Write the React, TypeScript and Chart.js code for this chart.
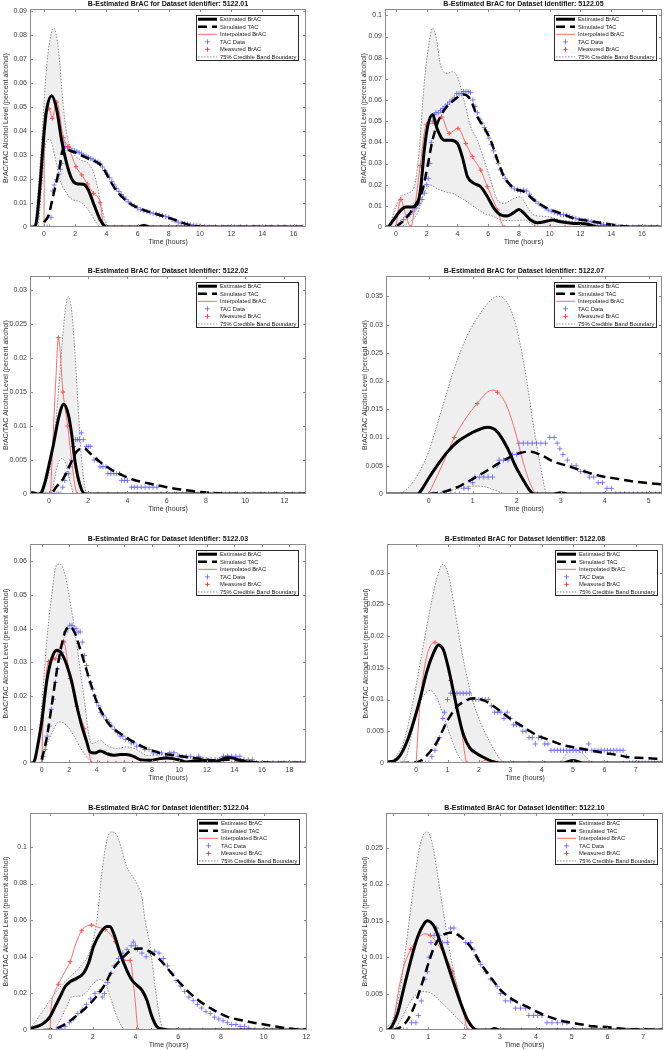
import React, { useEffect, useRef } from 'react';
import { Chart, registerables } from 'chart.js';
Chart.register(...registerables);

type Pts = [number, number][];

// ---------------- DATA ----------------
const legendLabels = ['Estimated BrAC', 'Simulated TAC', 'Interpolated BrAC', 'TAC Data', 'Measured BrAC', '75% Credible Band Boundary'];
const titlePrefix = 'B-Estimated BrAC for Dataset Identifier: ';
const xAxisLabel = 'Time (hours)';
const yAxisLabel = 'BrAC/TAC Alcohol Level (percent alcohol)';

// ---- 5122.01 ----
const xTicks01 = [0, 2, 4, 6, 8, 10, 12, 14, 16];
const yTicks01 = [0, 0.01, 0.02, 0.03, 0.04, 0.05, 0.06, 0.07, 0.08, 0.09];
const est01: Pts = [[-0.9,0],[-0.6,0],[-0.47,0.003],[-0.26,0.017],[0,0.039],[0.17,0.049],[0.49,0.0547],[0.81,0.049],[1.13,0.036],[1.45,0.0265],[1.78,0.02],[2.1,0.018],[2.52,0.0178],[2.84,0.0154],[3.17,0.0099],[3.6,0.003],[3.9,0.0004],[4.2,0],[6.0,0],[6.4,0.0006],[6.8,0],[16.6,0]];
const sim01: Pts = [[0,0.002],[0.3,0.005],[0.55,0.012],[0.8,0.019],[1.0,0.025],[1.15,0.031],[1.3,0.0335],[1.6,0.032],[2.0,0.031],[2.5,0.0295],[3.0,0.028],[3.5,0.0265],[3.8,0.0245],[4.1,0.021],[4.5,0.0165],[5.0,0.0125],[5.5,0.0098],[6.0,0.008],[6.5,0.0068],[7.0,0.0058],[7.5,0.0048],[8.0,0.0038],[8.5,0.0027],[9.0,0.0015],[9.5,0.0006],[10,0.0002],[10.5,0],[16.6,0]];
const interp01: Pts = [[0,0],[0.03,0.047],[0.32,0.0492],[0.53,0.0453],[0.81,0.052],[1.24,0.0372],[1.56,0.0335],[2.05,0.0251],[2.42,0.0217],[2.78,0.0179],[3.17,0.014],[3.6,0.0101],[3.8,0.001],[3.9,0],[16.6,0]];
const meas01: Pts = [[0.32,0.0492],[0.53,0.0453],[0.81,0.052],[1.24,0.0372],[1.56,0.0335],[2.05,0.0251],[2.42,0.0217],[2.78,0.0179],[3.17,0.014],[3.6,0.0101],[4,0],[4.5,0],[5,0],[5.5,0],[6,0],[6.5,0],[7,0],[7.5,0],[8,0],[8.5,0],[9,0],[9.5,0],[10,0],[10.5,0],[11,0],[11.5,0],[12,0],[12.5,0],[13,0],[13.5,0],[14,0],[14.5,0],[15,0],[15.5,0],[16,0],[16.5,0]];
const tac01: Pts = [[0.2,0],[0.35,0],[0.45,0.004],[0.55,0.015],[0.65,0.0175],[0.8,0.0196],[0.95,0.022],[1.05,0.024],[1.13,0.0265],[1.24,0.035],[1.35,0.0335],[1.5,0.033],[1.65,0.0325],[1.8,0.032],[1.95,0.0318],[2.1,0.0315],[2.25,0.031],[2.4,0.0305],[2.55,0.03],[2.7,0.0295],[2.85,0.029],[3.0,0.0285],[3.15,0.028],[3.3,0.0275],[3.45,0.027],[3.6,0.0265],[3.75,0.025],[3.9,0.0235],[4.05,0.022],[4.2,0.0205],[4.35,0.019],[4.5,0.0175],[4.65,0.016],[4.8,0.0148],[4.95,0.0135],[5.1,0.0125],[5.25,0.0115],[5.4,0.0105],[5.6,0.0095],[5.8,0.0088],[6.0,0.008],[6.2,0.0072],[6.4,0.0068],[6.6,0.0064],[6.8,0.006],[7.0,0.0057],[7.2,0.0054],[7.4,0.005],[7.6,0.0047],[7.8,0.0044],[8.0,0.004],[8.2,0.0032],[8.4,0.0026],[8.6,0.002],[8.8,0.0016],[9.0,0.0014],[9.2,0.0012],[9.4,0.001],[9.6,0.0008],[9.8,0.0006],[10.0,0.0004],[10.3,0.0002],[10.6,0],[11.0,0],[11.4,0],[11.8,0],[12.2,0],[12.6,0],[13.0,0],[13.4,0],[13.8,0],[14.2,0],[14.6,0],[15.0,0],[15.4,0],[15.8,0],[16.2,0],[16.6,0]];
const hi01: Pts = [[-0.9,0],[-0.6,0.001],[-0.47,0.0085],[-0.3,0.022],[-0.15,0.036],[0.17,0.067],[0.49,0.0814],[0.64,0.0828],[0.92,0.074],[1.24,0.05],[1.45,0.039],[1.78,0.032],[2.3,0.028],[2.84,0.0265],[3.27,0.021],[3.6,0.0112],[3.9,0.003],[4.15,0],[6.0,0],[6.4,0.0012],[6.8,0],[16.8,0]];
const lo01: Pts = [[-0.9,0],[-0.4,0],[-0.15,0.017],[0.17,0.036],[0.38,0.0365],[0.7,0.029],[1.03,0.0196],[1.45,0.014],[1.78,0.0115],[2.3,0.0105],[2.84,0.007],[3.38,0.0015],[3.6,0],[16.8,0]];

// ---- 5122.05 ----
const xTicks05 = [0, 2, 4, 6, 8, 10, 12, 14, 16];
const yTicks05 = [0, 0.01, 0.02, 0.03, 0.04, 0.05, 0.06, 0.07, 0.08, 0.09, 0.1];
const est05: Pts = [[-0.7,0],[-0.5,0],[-0.32,0.0017],[0,0.0049],[0.32,0.008],[0.65,0.0094],[1.08,0.0094],[1.4,0.011],[1.62,0.019],[1.84,0.036],[2.05,0.047],[2.38,0.0532],[2.7,0.046],[3.14,0.041],[3.57,0.041],[4.0,0.0395],[4.32,0.033],[4.65,0.0238],[5.08,0.0206],[5.51,0.019],[5.95,0.0143],[6.38,0.0088],[6.81,0.0057],[7.24,0.0052],[7.68,0.0069],[8.0,0.0083],[8.32,0.0065],[8.76,0.0033],[9.19,0.002],[9.84,0.0028],[10.16,0.0033],[10.7,0.0025],[11.57,0.0017],[12.4,0.0014],[13.1,0],[17.3,0]];
const sim05: Pts = [[0,0],[0.54,0.0033],[1.19,0.0096],[1.73,0.0175],[2.05,0.0285],[2.38,0.041],[2.7,0.049],[3.14,0.0553],[3.78,0.06],[4.43,0.0626],[4.86,0.06],[5.3,0.052],[5.73,0.047],[6.16,0.041],[6.6,0.0317],[7.03,0.0238],[7.68,0.0183],[8.32,0.0167],[8.97,0.0128],[9.84,0.0088],[10.7,0.0065],[11.57,0.0041],[12.43,0.003],[13.3,0.002],[14.16,0.001],[15.0,0.0002],[15.5,0],[17.3,0]];
const interp05: Pts = [[0,0],[0.15,0.008],[0.32,0.013],[0.55,0.008],[0.8,0.002],[0.97,0],[1.2,0.008],[1.58,0.029],[1.99,0.0485],[2.49,0.049],[2.96,0.052],[3.46,0.0443],[4.04,0.0466],[4.54,0.0395],[4.97,0.0332],[5.51,0.0269],[5.95,0.019],[6.6,0.008],[7.03,0],[17.3,0]];
const meas05: Pts = [[0,0],[0.32,0.013],[0.97,0],[1.58,0.029],[1.99,0.0485],[2.49,0.049],[2.96,0.052],[3.46,0.0443],[4.04,0.0466],[4.54,0.0395],[4.97,0.0332],[5.51,0.0269],[5.95,0.019],[6.6,0.008],[7.03,0],[8,0],[9,0],[10,0],[11,0],[12,0],[13,0],[14,0],[15,0],[16,0],[17,0]];
const tac05: Pts = [[0.1,0],[0.3,0.002],[0.5,0.0035],[0.7,0.0048],[0.9,0.006],[1.1,0.0075],[1.3,0.009],[1.5,0.011],[1.7,0.013],[1.85,0.016],[2.0,0.02],[2.1,0.023],[2.2,0.03],[2.3,0.04],[2.4,0.05],[2.5,0.053],[2.6,0.054],[2.75,0.054],[2.9,0.055],[3.05,0.056],[3.2,0.057],[3.35,0.058],[3.5,0.059],[3.65,0.06],[3.8,0.061],[3.95,0.063],[4.1,0.063],[4.25,0.063],[4.4,0.064],[4.55,0.064],[4.7,0.064],[4.85,0.0635],[5.0,0.06],[5.15,0.057],[5.3,0.054],[5.45,0.051],[5.6,0.049],[5.75,0.047],[5.9,0.045],[6.05,0.042],[6.2,0.039],[6.35,0.036],[6.5,0.033],[6.65,0.03],[6.8,0.027],[6.95,0.025],[7.1,0.023],[7.3,0.021],[7.5,0.019],[7.7,0.018],[7.9,0.0175],[8.1,0.017],[8.3,0.0175],[8.5,0.017],[8.7,0.0155],[8.9,0.0135],[9.1,0.012],[9.3,0.011],[9.5,0.01],[9.7,0.009],[9.9,0.008],[10.1,0.0075],[10.3,0.007],[10.5,0.0065],[10.7,0.006],[10.9,0.0058],[11.1,0.0055],[11.3,0.005],[11.5,0.0045],[11.7,0.004],[11.9,0.0035],[12.1,0.0032],[12.3,0.003],[12.5,0.0028],[12.7,0.0025],[12.9,0.002],[13.1,0.0018],[13.3,0.0015],[13.5,0.0012],[13.7,0.001],[13.9,0.0008],[14.1,0.0006],[14.3,0.0004],[14.5,0.0002],[14.7,0],[15.0,0],[15.4,0],[15.8,0],[16.2,0],[16.6,0],[17.0,0]];
const hi05: Pts = [[-0.7,0],[-0.65,0],[-0.3,0.0033],[0,0.0096],[0.32,0.0143],[0.76,0.016],[1.19,0.019],[1.51,0.036],[1.84,0.068],[2.16,0.087],[2.38,0.094],[2.6,0.09],[2.92,0.076],[3.35,0.0726],[3.68,0.0734],[4.0,0.071],[4.43,0.06],[4.86,0.0474],[5.3,0.041],[5.73,0.0317],[6.16,0.0222],[6.6,0.0128],[7.03,0.0112],[7.68,0.0135],[8.1,0.0143],[8.54,0.0096],[8.97,0.0057],[9.84,0.0049],[10.7,0.0033],[11.57,0.0025],[12.43,0.0017],[13.3,0.0005],[13.8,0],[17.3,0]];
const lo05: Pts = [[-0.7,0],[0,0],[0.76,0.0017],[1.4,0.0065],[1.84,0.016],[2.27,0.0198],[2.7,0.018],[3.14,0.0167],[3.78,0.0156],[4.43,0.0128],[5.08,0.0096],[5.73,0.0065],[6.38,0.0049],[6.8,0.0033],[7.68,0.003],[8.32,0.0033],[8.97,0.001],[9.84,0],[17.3,0]];

// ---- 5122.02 ----
const xTicks02 = [0, 2, 4, 6, 8, 10, 12];
const yTicks02 = [0, 0.005, 0.01, 0.015, 0.02, 0.025, 0.03];
const est02: Pts = [[-0.97,0.0002],[-0.7,0.0001],[-0.54,0],[-0.37,0.0003],[-0.2,0.0018],[0,0.0043],[0.22,0.0072],[0.48,0.0111],[0.75,0.0132],[0.99,0.0116],[1.16,0.0087],[1.33,0.0047],[1.58,0.0013],[1.84,0],[13.1,0]];
const sim02: Pts = [[-0.46,0],[0.05,0],[0.39,0.0011],[0.73,0.0023],[1.07,0.0043],[1.4,0.0062],[1.67,0.0067],[1.8,0.0067],[2.09,0.006],[2.6,0.0047],[3.11,0.0037],[3.63,0.0029],[4.3,0.0021],[5.16,0.0015],[6.0,0.001],[6.86,0.0006],[7.7,0.0003],[8.56,0.0001],[9.0,0],[13.1,0]];
const interp02: Pts = [[0.08,0],[0.2,0.008],[0.35,0.017],[0.48,0.023],[0.71,0.015],[0.95,0.01],[1.15,0.005],[1.35,0.0008],[1.46,0],[13.1,0]];
const meas02: Pts = [[0.08,0],[0.48,0.023],[0.71,0.015],[0.95,0.01],[1.46,0],[2,0],[2.5,0],[3,0],[3.5,0],[4,0],[4.5,0],[5,0],[5.5,0],[6,0],[6.5,0],[7,0],[7.5,0],[8,0],[8.5,0],[9,0],[9.5,0],[10,0],[10.5,0],[11,0],[11.5,0],[12,0],[12.5,0],[13,0]];
const tac02: Pts = [[0.1,0],[0.2,0],[0.3,0],[0.4,0],[0.5,0],[0.6,0],[0.7,0.001],[0.8,0.002],[0.9,0.003],[1.0,0.003],[1.05,0.004],[1.15,0.005],[1.25,0.007],[1.35,0.008],[1.45,0.008],[1.55,0.008],[1.65,0.009],[1.75,0.008],[1.9,0.007],[2.0,0.007],[2.1,0.007],[2.3,0.005],[2.45,0.005],[2.6,0.004],[2.75,0.004],[2.9,0.004],[3.0,0.003],[3.15,0.003],[3.3,0.003],[3.45,0.003],[3.6,0.003],[3.7,0.002],[3.85,0.002],[4.0,0.002],[4.2,0.001],[4.35,0.001],[4.5,0.001],[4.7,0.001],[4.9,0.001],[5.1,0.001],[5.3,0.001],[5.5,0.001],[5.7,0],[6.0,0],[6.4,0],[6.8,0],[7.2,0],[7.6,0],[8.0,0],[8.4,0],[8.8,0],[9.2,0],[9.6,0],[10.0,0],[10.4,0],[10.8,0],[11.2,0],[11.6,0],[12.0,0],[12.4,0],[12.8,0]];
const hi02: Pts = [[-0.97,0],[-0.46,0],[-0.2,0.0013],[0.05,0.0038],[0.31,0.0096],[0.56,0.018],[0.73,0.0243],[0.9,0.0285],[0.99,0.029],[1.16,0.0268],[1.33,0.0204],[1.5,0.0121],[1.67,0.0047],[1.84,0.0008],[1.96,0],[13.1,0]];
const lo02: Pts = [[-0.97,0],[0.05,0],[0.22,0.0013],[0.39,0.0038],[0.56,0.005],[0.65,0.0052],[0.82,0.0047],[0.99,0.0028],[1.16,0.0008],[1.24,0],[13.1,0]];

// ---- 5122.07 ----
const xTicks07 = [0, 1, 2, 3, 4, 5];
const yTicks07 = [0, 0.005, 0.01, 0.015, 0.02, 0.025, 0.03, 0.035];
const est07: Pts = [[-0.97,0],[-0.25,0],[-0.14,0.001],[0,0.0028],[0.2,0.0051],[0.43,0.0075],[0.66,0.0093],[0.88,0.0104],[1.11,0.0113],[1.34,0.0118],[1.56,0.011],[1.79,0.0081],[1.98,0.0048],[2.17,0.0022],[2.32,0.0004],[2.39,0],[2.8,0],[3.0,0.0002],[3.2,0],[5.3,0]];
const sim07: Pts = [[0,0],[0.35,0.0004],[0.73,0.0015],[1.03,0.0028],[1.34,0.0042],[1.64,0.0057],[1.87,0.0066],[2.09,0.0073],[2.32,0.0075],[2.55,0.0069],[2.85,0.0057],[3.15,0.005],[3.53,0.004],[3.9,0.0032],[4.28,0.0027],[4.66,0.0022],[5.04,0.0019],[5.3,0.0017]];
const interp07: Pts = [[0,0],[0.3,0.005],[0.58,0.01],[0.85,0.0135],[1.1,0.016],[1.3,0.0178],[1.45,0.0184],[1.56,0.0181],[1.75,0.016],[1.95,0.0115],[2.15,0.0055],[2.3,0.002],[2.45,0],[5.3,0]];
const meas07: Pts = [[0,0],[0.58,0.01],[1.1,0.016],[1.56,0.018],[2.47,0],[3.0,0],[3.45,0],[3.98,0],[4.45,0],[4.95,0]];
const tac07: Pts = [[0.1,0],[0.2,0],[0.3,0],[0.4,0],[0.5,0],[0.6,0],[0.7,0],[0.8,0.001],[0.9,0.001],[1.0,0.002],[1.05,0.003],[1.15,0.003],[1.25,0.003],[1.35,0.003],[1.45,0.003],[1.55,0.005],[1.6,0.006],[1.7,0.006],[1.8,0.006],[1.9,0.007],[2.0,0.007],[2.05,0.009],[2.15,0.009],[2.25,0.009],[2.35,0.009],[2.45,0.009],[2.55,0.009],[2.65,0.009],[2.75,0.01],[2.85,0.01],[2.92,0.009],[2.98,0.008],[3.05,0.007],[3.15,0.006],[3.25,0.005],[3.35,0.005],[3.45,0.004],[3.55,0.004],[3.65,0.003],[3.75,0.003],[3.85,0.002],[3.95,0.002],[4.05,0.001],[4.15,0.001],[4.25,0],[4.35,0],[4.45,0],[4.55,0],[4.65,0],[4.75,0],[4.85,0],[4.95,0],[5.05,0],[5.15,0],[5.25,0]];
const hi07: Pts = [[-0.97,0],[-0.7,0],[-0.48,0.001],[-0.25,0.0034],[0,0.0075],[0.28,0.0146],[0.58,0.0222],[0.88,0.0281],[1.19,0.0322],[1.41,0.0343],[1.56,0.035],[1.71,0.0346],[1.94,0.031],[2.17,0.0228],[2.39,0.0116],[2.55,0.0045],[2.66,0.0004],[2.72,0],[5.3,0]];
const lo07: Pts = [[-0.97,0],[0,0],[0.35,0.0004],[0.73,0.001],[1.03,0.0014],[1.26,0.0013],[1.49,0.0007],[1.71,0.0001],[1.8,0],[5.3,0]];

// ---- 5122.03 ----
const xTicks03 = [0, 2, 4, 6, 8, 10, 12, 14, 16, 18];
const yTicks03 = [0, 0.01, 0.02, 0.03, 0.04, 0.05, 0.06];
const est03: Pts = [[-0.85,0],[-0.65,0],[-0.48,0.0013],[-0.24,0.0063],[0,0.0122],[0.36,0.0242],[0.73,0.0311],[1.09,0.0336],[1.45,0.0326],[1.82,0.0292],[2.18,0.0242],[2.54,0.0172],[2.9,0.0112],[3.27,0.0063],[3.51,0.0033],[3.87,0.003],[4.24,0.0036],[4.72,0.0028],[5.2,0.0023],[5.7,0.0025],[6.17,0.0025],[6.66,0.002],[7.14,0.001],[7.87,0.0008],[8.6,0.0013],[9.08,0.0015],[9.56,0.0013],[10.05,0.0008],[10.5,0.0003],[11.0,0.0005],[11.7,0.0008],[12.47,0.0001],[12.95,0.0008],[13.4,0.0016],[13.7,0.0016],[14.4,0.0008],[15.1,0.0001],[15.5,0],[19.2,0]];
const sim03: Pts = [[0,0.001],[0.36,0.0073],[0.73,0.0172],[1.09,0.0272],[1.45,0.0351],[1.7,0.0391],[2.06,0.0406],[2.42,0.0386],[2.78,0.0341],[3.15,0.0292],[3.51,0.0242],[4.0,0.0182],[4.48,0.0142],[4.96,0.0112],[5.7,0.0088],[6.66,0.0063],[7.63,0.0043],[8.6,0.003],[9.56,0.0023],[10.5,0.0018],[11.5,0.0013],[12.47,0.0008],[13.4,0.001],[14.4,0.0008],[15.4,0.0003],[16.3,0.0001],[17,0],[19.2,0]];
const interp03: Pts = [[0,0],[0.1,0.012],[0.3,0.025],[0.5,0.0302],[0.97,0.031],[1.25,0.034],[1.57,0.0363],[2.06,0.0252],[2.54,0.0169],[3.1,0.0102],[3.4,0.004],[3.63,0],[19.2,0]];
const meas03: Pts = [[0,0],[0.5,0.0302],[0.97,0.031],[1.57,0.0363],[2.06,0.0252],[2.54,0.0169],[3.1,0.0102],[3.63,0],[4.2,0],[4.8,0],[5.4,0],[6.0,0],[6.6,0],[7.2,0],[7.8,0],[8.4,0],[9.0,0],[9.6,0],[10.2,0],[10.8,0],[11.4,0],[12.0,0],[12.6,0],[13.2,0],[13.8,0],[14.4,0],[15.0,0],[15.6,0],[16.2,0],[16.8,0],[17.4,0],[18.0,0],[18.6,0],[19.2,0]];
const tac03: Pts = [[0.1,0.002],[0.25,0.004],[0.4,0.008],[0.55,0.011],[0.7,0.016],[0.85,0.019],[1.0,0.024],[1.15,0.028],[1.3,0.031],[1.45,0.033],[1.6,0.036],[1.75,0.039],[1.9,0.04],[2.05,0.041],[2.2,0.041],[2.35,0.04],[2.5,0.04],[2.65,0.039],[2.8,0.039],[2.95,0.036],[3.1,0.032],[3.25,0.029],[3.4,0.026],[3.55,0.024],[3.7,0.022],[3.85,0.02],[4.0,0.018],[4.15,0.017],[4.3,0.015],[4.5,0.014],[4.7,0.013],[4.9,0.012],[5.1,0.011],[5.3,0.01],[5.5,0.009],[5.7,0.008],[5.9,0.008],[6.1,0.007],[6.3,0.007],[6.5,0.006],[6.7,0.006],[6.9,0.005],[7.2,0.005],[7.5,0.004],[7.8,0.004],[8.1,0.003],[8.4,0.003],[8.7,0.003],[9.0,0.002],[9.3,0.003],[9.6,0.003],[9.9,0.002],[10.2,0.002],[10.5,0.002],[10.8,0.002],[11.1,0.001],[11.4,0.002],[11.7,0.001],[12.0,0.001],[12.3,0.001],[12.6,0.001],[12.9,0.001],[13.2,0.002],[13.5,0.002],[13.8,0.002],[14.1,0.002],[14.4,0.002],[14.7,0.001],[15.0,0.001],[15.3,0.001],[15.6,0],[16.0,0],[16.4,0],[16.8,0],[17.2,0],[17.6,0],[18.0,0],[18.4,0],[18.8,0],[19.2,0]];
const hi03: Pts = [[-0.85,0],[-0.65,0],[-0.36,0.0033],[0,0.0172],[0.36,0.0361],[0.73,0.05],[1.09,0.059],[1.33,0.0592],[1.7,0.056],[2.06,0.048],[2.42,0.0391],[2.78,0.0282],[3.15,0.0172],[3.39,0.0093],[3.63,0.0058],[4.0,0.0063],[4.24,0.0068],[4.72,0.0053],[5.45,0.0043],[6.17,0.0048],[6.9,0.004],[7.63,0.0023],[8.6,0.0025],[9.56,0.0033],[10.5,0.0018],[11.5,0.0018],[12.47,0.001],[13.4,0.0023],[14.2,0.0016],[15.4,0.0005],[16.3,0.0001],[16.8,0],[19.2,0]];
const lo03: Pts = [[-0.85,0],[0,0],[0.36,0.0053],[0.73,0.0088],[1.09,0.0117],[1.33,0.0122],[1.82,0.0112],[2.3,0.0083],[2.78,0.0048],[3.27,0.0018],[3.63,0.0003],[4.0,0],[19.2,0]];

// ---- 5122.08 ----
const xTicks08 = [0, 1, 2, 3, 4, 5, 6, 7];
const yTicks08 = [0, 0.005, 0.01, 0.015, 0.02, 0.025, 0.03];
const est08: Pts = [[-0.93,0.0002],[-0.72,0.0003],[-0.51,0.0012],[-0.3,0.0033],[-0.08,0.0065],[0.13,0.0102],[0.34,0.0144],[0.55,0.0173],[0.71,0.0186],[0.87,0.0178],[1.03,0.0149],[1.19,0.0112],[1.35,0.0075],[1.51,0.0044],[1.72,0.0023],[1.93,0.0015],[2.14,0.0009],[2.46,0.0002],[2.67,0],[4.7,0],[5.0,0.0004],[5.3,0],[7.87,0]];
const sim08: Pts = [[-0.51,0],[0,0.0001],[0.34,0.0012],[0.66,0.0033],[0.98,0.0065],[1.29,0.0088],[1.61,0.0099],[1.82,0.0102],[2.14,0.0099],[2.57,0.0086],[2.99,0.007],[3.41,0.0057],[3.84,0.0044],[4.26,0.0036],[4.69,0.0028],[5.11,0.0024],[5.54,0.002],[5.96,0.0016],[6.38,0.0013],[6.81,0.0009],[7.23,0.0008],[7.87,0.0006]];
const interp08: Pts = [[0,0],[0.1,0.008],[0.3,0.016],[0.6,0.019],[0.9,0.017],[1.2,0.011],[1.45,0.005],[1.62,0],[2.0,0],[2.2,0.0004],[2.4,0],[7.87,0]];
const meas08: Pts = [[0,0],[0.6,0.019],[1.1,0.013],[1.62,0],[2.1,0],[2.6,0],[3.1,0],[3.6,0],[4.1,0],[4.6,0],[5.1,0],[5.6,0],[6.1,0],[6.6,0],[7.1,0],[7.6,0]];
const tac08: Pts = [[0.1,0],[0.2,0],[0.3,0],[0.4,0],[0.5,0.001],[0.6,0.002],[0.65,0.003],[0.75,0.004],[0.85,0.007],[0.9,0.008],[1.0,0.01],[1.1,0.011],[1.2,0.011],[1.3,0.011],[1.4,0.011],[1.5,0.011],[1.6,0.011],[1.7,0.011],[1.8,0.01],[1.9,0.01],[2.0,0.01],[2.1,0.01],[2.2,0.01],[2.3,0.01],[2.4,0.009],[2.5,0.008],[2.6,0.008],[2.7,0.008],[2.8,0.007],[2.9,0.008],[3.0,0.007],[3.1,0.006],[3.2,0.006],[3.3,0.006],[3.4,0.005],[3.5,0.005],[3.6,0.004],[3.7,0.004],[3.8,0.003],[3.9,0.004],[4.0,0.004],[4.1,0.003],[4.2,0.003],[4.3,0.002],[4.4,0.002],[4.5,0.002],[4.6,0.002],[4.7,0.002],[4.8,0.002],[4.9,0.002],[5.0,0.002],[5.1,0.002],[5.2,0.002],[5.3,0.002],[5.4,0.002],[5.5,0.003],[5.6,0.002],[5.7,0.002],[5.8,0.002],[5.9,0.002],[6.0,0.002],[6.1,0.002],[6.2,0.002],[6.3,0.002],[6.4,0.002],[6.5,0.002],[6.6,0.002],[6.7,0.001],[6.8,0],[6.9,0],[7.0,0],[7.1,0],[7.2,0],[7.3,0],[7.4,0],[7.5,0],[7.6,0],[7.7,0],[7.8,0]];
const hi08: Pts = [[-0.93,0],[-0.83,0],[-0.62,0.0012],[-0.4,0.0033],[-0.19,0.0075],[0.02,0.0128],[0.23,0.0186],[0.45,0.0244],[0.66,0.0291],[0.85,0.0313],[1.03,0.0296],[1.19,0.0254],[1.4,0.0191],[1.61,0.0138],[1.82,0.0096],[2.04,0.0065],[2.35,0.0033],[2.67,0.0007],[2.88,0],[4.55,0],[4.8,0.0015],[5.0,0.0022],[5.3,0.0015],[5.65,0],[7.87,0]];
const lo08: Pts = [[-0.93,0],[-0.51,0],[-0.3,0.0012],[-0.08,0.0059],[0.13,0.0096],[0.34,0.0112],[0.45,0.0114],[0.66,0.0102],[0.87,0.0075],[1.08,0.0044],[1.29,0.0017],[1.45,0.0004],[1.56,0],[7.87,0]];

// ---- 5122.04 ----
const xTicks04 = [0, 2, 4, 6, 8, 10, 12];
const yTicks04 = [0, 0.02, 0.04, 0.06, 0.08, 0.1];
const est04: Pts = [[-0.94,0.0009],[-0.63,0.0018],[-0.31,0.0036],[0,0.0073],[0.23,0.0127],[0.47,0.0182],[0.7,0.0236],[0.94,0.0264],[1.25,0.0282],[1.56,0.0309],[1.8,0.0364],[2.03,0.0455],[2.34,0.0527],[2.66,0.0565],[2.8,0.0565],[3.0,0.052],[3.28,0.0418],[3.59,0.0327],[3.83,0.0273],[4.06,0.0245],[4.3,0.0218],[4.53,0.0164],[4.77,0.0073],[5.0,0.0018],[5.31,0.0004],[5.6,0],[12.03,0]];
const sim04: Pts = [[-0.31,0],[0.16,0.0004],[0.63,0.0027],[1.09,0.0064],[1.56,0.0109],[2.03,0.0164],[2.5,0.0236],[2.97,0.0336],[3.44,0.04],[3.91,0.0442],[4.22,0.0445],[4.69,0.0427],[5.16,0.0382],[5.63,0.0318],[6.1,0.0255],[6.56,0.02],[7.03,0.0155],[7.66,0.0109],[8.28,0.0073],[8.9,0.0055],[9.53,0.004],[10.16,0.0027],[10.78,0.0015],[11.4,0.0005],[12.03,0.0002]];
const interp04: Pts = [[0,0],[0.05,0.012],[0.2,0.02],[0.39,0.025],[0.7,0.032],[0.94,0.0373],[1.2,0.047],[1.48,0.0542],[1.75,0.057],[1.95,0.0573],[2.3,0.056],[2.58,0.0549],[2.85,0.052],[3.05,0.0482],[3.25,0.043],[3.44,0.0382],[3.6,0.038],[3.75,0.038],[3.95,0.02],[4.14,0],[12.03,0]];
const meas04: Pts = [[0,0],[0.39,0.025],[0.94,0.0373],[1.48,0.0542],[1.95,0.0573],[2.58,0.0549],[3.05,0.0482],[3.44,0.0382],[3.75,0.038],[4.14,0],[4.75,0],[5.35,0],[5.95,0],[6.55,0],[7.15,0],[7.75,0],[8.35,0],[8.95,0],[9.55,0],[10.15,0],[10.75,0],[11.35,0],[11.95,0]];
const tac04: Pts = [[0.3,0],[0.5,0.001],[0.7,0.002],[0.9,0.004],[1.1,0.006],[1.3,0.009],[1.5,0.011],[1.7,0.014],[1.9,0.017],[2.1,0.02],[2.3,0.021],[2.45,0.018],[2.55,0.02],[2.7,0.026],[2.85,0.031],[3.0,0.035],[3.2,0.039],[3.4,0.042],[3.6,0.044],[3.8,0.046],[3.9,0.048],[4.0,0.046],[4.1,0.044],[4.3,0.042],[4.5,0.04],[4.7,0.042],[4.9,0.043],[5.1,0.042],[5.3,0.039],[5.5,0.035],[5.7,0.031],[5.9,0.027],[6.1,0.024],[6.3,0.021],[6.5,0.018],[6.7,0.016],[6.9,0.014],[7.1,0.012],[7.3,0.01],[7.5,0.009],[7.7,0.007],[7.9,0.006],[8.1,0.005],[8.3,0.004],[8.5,0.003],[8.7,0.003],[8.9,0.002],[9.1,0.002],[9.3,0.001],[9.6,0],[10.0,0],[10.4,0],[10.8,0],[11.2,0],[11.6,0],[12.0,0]];
const hi04: Pts = [[-0.94,0.0009],[-0.63,0.0055],[-0.31,0.0109],[0,0.0164],[0.47,0.0236],[0.94,0.0291],[1.41,0.0345],[1.88,0.0436],[2.19,0.06],[2.42,0.0855],[2.66,0.1036],[2.89,0.1082],[3.13,0.1064],[3.36,0.0982],[3.59,0.0891],[3.83,0.0845],[4.06,0.08],[4.3,0.0727],[4.45,0.06],[4.69,0.0455],[4.92,0.0236],[5.16,0.0055],[5.31,0],[12.03,0]];
const lo04: Pts = [[-0.94,0],[0.16,0],[0.47,0.0055],[0.78,0.0127],[1.02,0.0182],[1.41,0.0185],[1.72,0.0209],[2.03,0.0255],[2.34,0.0276],[2.58,0.0255],[2.81,0.0182],[3.13,0.0073],[3.36,0.0018],[3.52,0],[12.03,0]];

// ---- 5122.10 ----
const xTicks10 = [0, 1, 2, 3, 4, 5, 6, 7];
const yTicks10 = [0, 0.005, 0.01, 0.015, 0.02, 0.025];
const est10: Pts = [[-0.185,0],[-0.14,0],[0,0.0007],[0.14,0.0023],[0.32,0.0059],[0.51,0.0096],[0.7,0.0128],[0.88,0.0146],[0.97,0.015],[1.16,0.0142],[1.34,0.0119],[1.53,0.0091],[1.71,0.0064],[1.9,0.0037],[2.09,0.0014],[2.27,0.0002],[2.36,0],[2.7,0],[2.85,0.0002],[3.0,0],[7.55,0]];
const sim10: Pts = [[0,0],[0.23,0.0004],[0.42,0.0014],[0.6,0.0032],[0.79,0.0059],[0.97,0.0087],[1.16,0.0114],[1.34,0.0128],[1.53,0.0133],[1.67,0.0134],[1.9,0.0128],[2.18,0.0114],[2.46,0.0091],[2.73,0.0073],[3.01,0.0055],[3.38,0.0041],[3.75,0.0032],[4.12,0.0023],[4.49,0.0016],[4.87,0.0011],[5.24,0.0008],[5.61,0.0005],[5.98,0.0004],[6.35,0.0002],[6.72,0.0001],[7.55,0]];
const interp10: Pts = [[0,0],[0.15,0.005],[0.3,0.0085],[0.51,0.0111],[0.75,0.0128],[0.9,0.0132],[1.05,0.013],[1.3,0.0115],[1.67,0.008],[1.85,0.005],[2.0,0.002],[2.09,0],[7.55,0]];
const meas10: Pts = [[0,0],[0.51,0.0111],[1.05,0.013],[1.67,0.008],[2.09,0],[2.6,0],[3.1,0],[3.6,0],[4.1,0],[4.6,0],[5.1,0],[5.6,0],[6.1,0],[6.6,0],[7.1,0]];
const tac10: Pts = [[0.1,0],[0.2,0],[0.3,0],[0.4,0],[0.53,0.001],[0.65,0.001],[0.72,0.002],[0.8,0.004],[0.9,0.007],[0.97,0.008],[1.02,0.01],[1.07,0.012],[1.16,0.013],[1.23,0.014],[1.3,0.013],[1.39,0.012],[1.53,0.012],[1.62,0.014],[1.71,0.014],[1.85,0.013],[2.04,0.012],[2.18,0.012],[2.27,0.011],[2.36,0.01],[2.46,0.009],[2.6,0.008],[2.73,0.007],[2.92,0.006],[3.01,0.005],[3.15,0.004],[3.29,0.004],[3.43,0.003],[3.57,0.003],[3.71,0.003],[3.8,0.002],[3.94,0.002],[4.05,0.002],[4.17,0.002],[4.31,0.001],[4.45,0.001],[4.6,0.001],[4.75,0.001],[4.87,0.001],[5.05,0],[5.3,0],[5.55,0],[5.8,0],[6.05,0],[6.3,0],[6.55,0],[6.8,0],[7.05,0],[7.3,0],[7.5,0]];
const hi10: Pts = [[-0.185,0.0003],[-0.14,0.0005],[0,0.0014],[0.19,0.005],[0.37,0.0114],[0.56,0.0187],[0.74,0.0247],[0.88,0.027],[0.97,0.0272],[1.11,0.0256],[1.25,0.0215],[1.44,0.0155],[1.62,0.0101],[1.81,0.0059],[1.99,0.0027],[2.18,0.0009],[2.36,0.0001],[2.45,0],[7.55,0]];
const lo10: Pts = [[-0.185,0],[0,0],[0.23,0.0014],[0.42,0.0032],[0.6,0.0046],[0.83,0.0053],[0.97,0.0052],[1.16,0.0048],[1.34,0.0039],[1.53,0.003],[1.71,0.0021],[1.9,0.0011],[2.09,0.0004],[2.18,0],[7.55,0]];

// ---------------- LAYOUT / STYLE ----------------
const FONT = '"Liberation Sans", Arial, Helvetica, sans-serif';
const AXIS_COLOR = '#8a8a8a';
const TEXT_COLOR = '#333333';

interface PanelCfg {
  id: string; col: number;
  cell: [number, number, number, number];
  plot: [number, number, number, number];
  xMin: number; xMax: number; yMax: number;
  xTicks: number[]; yTicks: number[];
  est: Pts; sim: Pts; interp: Pts; meas: Pts; tac: Pts; hi: Pts; lo: Pts;
}

const panels: PanelCfg[] = [
  { id: '5122.01', col: 0, cell: [0, 0, 334, 262], plot: [30, 9, 306, 227], xMin: -0.9, xMax: 16.8, yMax: 0.0908, xTicks: xTicks01, yTicks: yTicks01, est: est01, sim: sim01, interp: interp01, meas: meas01, tac: tac01, hi: hi01, lo: lo01 },
  { id: '5122.05', col: 1, cell: [334, 0, 334, 262], plot: [385, 9, 662, 227], xMin: -0.71, xMax: 17.3, yMax: 0.103, xTicks: xTicks05, yTicks: yTicks05, est: est05, sim: sim05, interp: interp05, meas: meas05, tac: tac05, hi: hi05, lo: lo05 },
  { id: '5122.02', col: 0, cell: [0, 262, 334, 263], plot: [30, 276, 306, 494], xMin: -0.97, xMax: 13.1, yMax: 0.03206, xTicks: xTicks02, yTicks: yTicks02, est: est02, sim: sim02, interp: interp02, meas: meas02, tac: tac02, hi: hi02, lo: lo02 },
  { id: '5122.07', col: 1, cell: [334, 262, 334, 263], plot: [386, 276, 662, 494], xMin: -0.97, xMax: 5.3, yMax: 0.0386, xTicks: xTicks07, yTicks: yTicks07, est: est07, sim: sim07, interp: interp07, meas: meas07, tac: tac07, hi: hi07, lo: lo07 },
  { id: '5122.03', col: 0, cell: [0, 525, 334, 262], plot: [30, 544, 306, 763], xMin: -0.85, xMax: 19.2, yMax: 0.0652, xTicks: xTicks03, yTicks: yTicks03, est: est03, sim: sim03, interp: interp03, meas: meas03, tac: tac03, hi: hi03, lo: lo03 },
  { id: '5122.08', col: 1, cell: [334, 525, 334, 262], plot: [387, 544, 664, 763], xMin: -0.93, xMax: 7.87, yMax: 0.0345, xTicks: xTicks08, yTicks: yTicks08, est: est08, sim: sim08, interp: interp08, meas: meas08, tac: tac08, hi: hi08, lo: lo08 },
  { id: '5122.04', col: 0, cell: [0, 787, 334, 263], plot: [30, 813, 307, 1030], xMin: -0.94, xMax: 12.03, yMax: 0.1185, xTicks: xTicks04, yTicks: yTicks04, est: est04, sim: sim04, interp: interp04, meas: meas04, tac: tac04, hi: hi04, lo: lo04 },
  { id: '5122.10', col: 1, cell: [334, 787, 334, 263], plot: [386, 813, 664, 1030], xMin: -0.185, xMax: 7.55, yMax: 0.0298, xTicks: xTicks10, yTicks: yTicks10, est: est10, sim: sim10, interp: interp10, meas: meas10, tac: tac10, hi: hi10, lo: lo10 },
];

const toXY = (a: Pts) => a.map(([x, y]) => ({ x, y }));
const fmt = (v: number) => String(parseFloat(Number(v).toFixed(4)));

const BLUE = 'rgba(95,95,255,0.8)';
const RED_MARK = '#ff3a3a';
const RED_LINE = '#ff6a6a';
const BAND = '#8c8c8c';
const BAND_FILL = '#efefef';

function drawPlus(ctx: CanvasRenderingContext2D, x: number, y: number, r: number, color: string) {
  ctx.strokeStyle = color; ctx.lineWidth = 1; ctx.setLineDash([]);
  ctx.beginPath();
  ctx.moveTo(x - r, y); ctx.lineTo(x + r, y);
  ctx.moveTo(x, y - r); ctx.lineTo(x, y + r);
  ctx.stroke();
}

const matlabPlugin = {
  id: 'matlabDecor',
  afterDatasetsDraw(chart: any, _args: any, opts: any) {
    const ctx: CanvasRenderingContext2D = chart.ctx;
    const a = chart.chartArea;
    const xs = chart.scales.x, ys = chart.scales.y;
    ctx.save();
    // box
    ctx.setLineDash([]);
    ctx.strokeStyle = AXIS_COLOR; ctx.lineWidth = 1;
    ctx.strokeRect(a.left + 0.5, a.top + 0.5, a.right - a.left - 1, a.bottom - a.top - 1);
    // inward ticks on all sides
    const TL = 3;
    ctx.beginPath();
    xs.ticks.forEach((t: any) => {
      const px = Math.round(xs.getPixelForValue(t.value)) + 0.5;
      if (px <= a.left + 1 || px >= a.right - 1) return;
      ctx.moveTo(px, a.bottom); ctx.lineTo(px, a.bottom - TL);
      ctx.moveTo(px, a.top); ctx.lineTo(px, a.top + TL);
    });
    ys.ticks.forEach((t: any) => {
      const py = Math.round(ys.getPixelForValue(t.value)) + 0.5;
      if (py <= a.top + 1 || py >= a.bottom - 1) return;
      ctx.moveTo(a.left, py); ctx.lineTo(a.left + TL, py);
      ctx.moveTo(a.right, py); ctx.lineTo(a.right - TL, py);
    });
    ctx.stroke();

    // legend
    ctx.font = `5.8px ${FONT}`;
    const textW = Math.max(...legendLabels.map((l) => ctx.measureText(l).width));
    const w = Math.round(24 + textW + 3);
    const h = 46;
    const x1 = Math.round(a.right - opts.legendRight);
    const x0 = x1 - w;
    const y0 = Math.round(a.top + 6);
    ctx.fillStyle = '#ffffff';
    ctx.fillRect(x0, y0, w, h);
    ctx.strokeStyle = '#2a2a2a'; ctx.lineWidth = 1;
    ctx.strokeRect(x0 + 0.5, y0 + 0.5, w - 1, h - 1);
    legendLabels.forEach((label, i) => {
      const cy = y0 + 4.2 + i * 7.55;
      const sx0 = x0 + 2, sx1 = x0 + 21, sxm = x0 + 11.5;
      ctx.save();
      if (i === 0) { ctx.strokeStyle = '#000'; ctx.lineWidth = 3; ctx.setLineDash([]); ctx.beginPath(); ctx.moveTo(sx0, cy); ctx.lineTo(sx1, cy); ctx.stroke(); }
      if (i === 1) { ctx.strokeStyle = '#000'; ctx.lineWidth = 2.5; ctx.setLineDash([9, 5]); ctx.beginPath(); ctx.moveTo(sx0, cy); ctx.lineTo(sx1, cy); ctx.stroke(); }
      if (i === 2) { ctx.strokeStyle = RED_LINE; ctx.lineWidth = 1; ctx.setLineDash([]); ctx.beginPath(); ctx.moveTo(sx0, cy); ctx.lineTo(sx1, cy); ctx.stroke(); }
      if (i === 3) drawPlus(ctx, sxm, cy, 2.5, BLUE);
      if (i === 4) drawPlus(ctx, sxm, cy, 2.2, RED_MARK);
      if (i === 5) { ctx.strokeStyle = BAND; ctx.lineWidth = 1; ctx.setLineDash([1.5, 1.5]); ctx.beginPath(); ctx.moveTo(sx0, cy); ctx.lineTo(sx1, cy); ctx.stroke(); }
      ctx.restore();
      ctx.fillStyle = '#222'; ctx.textAlign = 'left'; ctx.textBaseline = 'middle';
      ctx.font = `5.8px ${FONT}`;
      ctx.fillText(label, x0 + 24, cy + 0.3);
    });

    // title
    const cxm = (a.left + a.right) / 2;
    ctx.fillStyle = '#111'; ctx.textAlign = 'center'; ctx.textBaseline = 'middle';
    ctx.font = `bold 7px ${FONT}`;
    ctx.fillText(titlePrefix + opts.id, cxm, a.top - 5);
    // x label
    ctx.fillStyle = TEXT_COLOR;
    ctx.font = `7px ${FONT}`;
    ctx.fillText(xAxisLabel, cxm, a.bottom + 15);
    // y label
    ctx.save();
    ctx.translate(opts.yLabelX, (a.top + a.bottom) / 2);
    ctx.rotate(-Math.PI / 2);
    ctx.fillText(yAxisLabel, 0, 0);
    ctx.restore();
    ctx.restore();
  },
};

function buildDatasets(p: PanelCfg): any[] {
  return [
    { label: legendLabels[0], data: toXY(p.est), borderColor: '#000', borderWidth: 3, pointRadius: 0, cubicInterpolationMode: 'monotone', fill: false, order: 0 },
    { label: legendLabels[1], data: toXY(p.sim), borderColor: '#000', borderWidth: 2.5, borderDash: [9, 5], pointRadius: 0, cubicInterpolationMode: 'monotone', fill: false, order: 1 },
    { label: legendLabels[2], data: toXY(p.interp), borderColor: RED_LINE, borderWidth: 1, pointRadius: 0, cubicInterpolationMode: 'monotone', fill: false, order: 2 },
    { label: legendLabels[3], data: toXY(p.tac), showLine: false, pointStyle: 'cross', pointRadius: 2.6, pointBorderWidth: 1, borderColor: BLUE, pointBorderColor: BLUE, backgroundColor: BLUE, fill: false, order: 4 },
    { label: legendLabels[4], data: toXY(p.meas), showLine: false, pointStyle: 'cross', pointRadius: 2.2, pointBorderWidth: 1, borderColor: RED_MARK, pointBorderColor: RED_MARK, backgroundColor: RED_MARK, fill: false, order: 3 },
    { label: legendLabels[5], data: toXY(p.hi), borderColor: BAND, borderWidth: 1, borderDash: [1.5, 1.5], pointRadius: 0, cubicInterpolationMode: 'monotone', fill: '+1', backgroundColor: BAND_FILL, order: 6 },
    { label: 'band lower', data: toXY(p.lo), borderColor: BAND, borderWidth: 1, borderDash: [1.5, 1.5], pointRadius: 0, cubicInterpolationMode: 'monotone', fill: false, order: 5 },
  ];
}

function Panel({ p }: { p: PanelCfg }) {
  const ref = useRef<HTMLCanvasElement>(null);
  const [cx, cy, cw, ch] = p.cell;
  useEffect(() => {
    const [pl, pt, pr, pb] = p.plot;
    const tickFont = { family: FONT, size: 7 };
    const chart = new Chart(ref.current as HTMLCanvasElement, {
      type: 'line',
      data: { datasets: buildDatasets(p) },
      options: {
        animation: false,
        responsive: false,
        maintainAspectRatio: false,
        devicePixelRatio: 1,
        events: [],
        layout: { padding: { left: 0, top: pt - cy, right: cx + cw - pr, bottom: 0 } },
        plugins: {
          legend: { display: false },
          tooltip: { enabled: false },
          title: { display: false },
          matlabDecor: { id: p.id, legendRight: p.col === 0 ? 7 : 5, yLabelX: p.col === 0 ? 6.5 : pl - cx - 20.5 },
        } as any,
        scales: {
          x: {
            type: 'linear', min: p.xMin, max: p.xMax, bounds: 'data',
            grid: { display: false, drawTicks: false }, border: { display: false },
            ticks: { padding: 3, font: tickFont, color: '#404040', autoSkip: false, maxRotation: 0, minRotation: 0, callback: (v: any) => fmt(v) },
            afterBuildTicks: (s: any) => { s.ticks = p.xTicks.map((v) => ({ value: v })); },
            afterFit: (s: any) => { s.height = cy + ch - pb; s.paddingLeft = 0; s.paddingRight = 0; },
          },
          y: {
            type: 'linear', min: 0, max: p.yMax, bounds: 'data',
            grid: { display: false, drawTicks: false }, border: { display: false },
            ticks: { padding: 3, font: tickFont, color: '#404040', autoSkip: false, callback: (v: any) => fmt(v) },
            afterBuildTicks: (s: any) => { s.ticks = p.yTicks.map((v) => ({ value: v })); },
            afterFit: (s: any) => { s.width = pl - cx; s.paddingTop = 0; s.paddingBottom = 0; },
          },
        } as any,
      } as any,
      plugins: [matlabPlugin as any],
    });
    return () => chart.destroy();
  }, []);
  return (
    <canvas
      ref={ref}
      width={cw}
      height={ch}
      style={{ position: 'absolute', left: cx, top: cy, width: cw, height: ch, display: 'block' }}
    />
  );
}

export default function App() {
  return (
    <div style={{ position: 'absolute', left: 0, top: 0, width: 668, height: 1050, background: '#fff', overflow: 'hidden' }}>
      {panels.map((p) => (
        <Panel key={p.id} p={p} />
      ))}
    </div>
  );
}
